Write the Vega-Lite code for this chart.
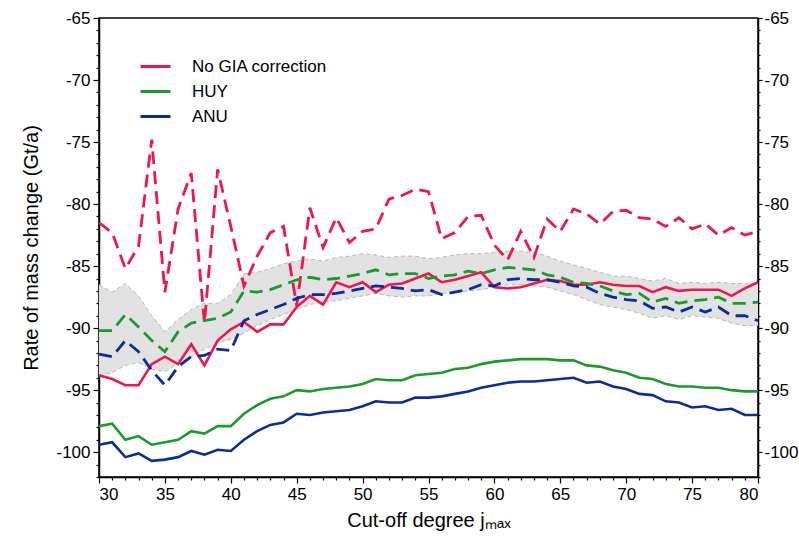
{
  "$schema": "https://vega.github.io/schema/vega-lite/v6.json",
  "width": 659,
  "height": 459,
  "autosize": "none",
  "padding": {"left": 99, "top": 18, "right": 41, "bottom": 74},
  "background": "white",
  "config": {
    "font": "Liberation Sans",
    "view": {"stroke": "black", "strokeWidth": 1.5},
    "axis": {
      "domainColor": "black", "domainWidth": 1.5, "tickColor": "black", "tickWidth": 1.2,
      "labelColor": "black", "labelFontSize": 17, "labelFont": "Liberation Sans",
      "titleFontSize": 20, "titleFontWeight": "normal", "titleColor": "black", "titleFont": "Liberation Sans",
      "grid": false, "labelOverlap": false
    }
  },
  "datasets": {
    "band": [
      {"x":30,"hi":-86.5,"lo":-93.8},{"x":31,"hi":-87.1,"lo":-93.6},{"x":32,"hi":-86.4,"lo":-93.0},{"x":33,"hi":-87.4,"lo":-92.8},{"x":34,"hi":-89.0,"lo":-93.3},{"x":35,"hi":-90.3,"lo":-93.5},{"x":36,"hi":-89.3,"lo":-92.9},{"x":37,"hi":-88.5,"lo":-92.3},{"x":38,"hi":-88.0,"lo":-91.7},{"x":39,"hi":-88.0,"lo":-91.2},{"x":40,"hi":-87.3,"lo":-90.9},
      {"x":41,"hi":-85.6,"lo":-90.4},{"x":42,"hi":-85.5,"lo":-89.8},{"x":43,"hi":-85.2,"lo":-89.3},{"x":44,"hi":-84.8,"lo":-88.9},{"x":45,"hi":-84.6,"lo":-88.5},{"x":46,"hi":-84.4,"lo":-88.1},{"x":47,"hi":-84.6,"lo":-87.9},{"x":48,"hi":-84.3,"lo":-87.8},{"x":49,"hi":-84.2,"lo":-87.6},{"x":50,"hi":-84.0,"lo":-87.4},
      {"x":51,"hi":-84.1,"lo":-87.2},{"x":52,"hi":-84.3,"lo":-87.4},{"x":53,"hi":-84.2,"lo":-87.5},{"x":54,"hi":-84.2,"lo":-87.4},{"x":55,"hi":-84.4,"lo":-87.4},{"x":56,"hi":-84.3,"lo":-87.2},{"x":57,"hi":-84.1,"lo":-87.1},{"x":58,"hi":-84.0,"lo":-87.0},{"x":59,"hi":-84.0,"lo":-86.9},{"x":60,"hi":-83.9,"lo":-86.7},
      {"x":61,"hi":-83.8,"lo":-86.5},{"x":62,"hi":-83.8,"lo":-86.5},{"x":63,"hi":-83.9,"lo":-86.6},{"x":64,"hi":-84.2,"lo":-86.7},{"x":65,"hi":-84.6,"lo":-87.0},{"x":66,"hi":-84.9,"lo":-87.3},{"x":67,"hi":-85.2,"lo":-87.7},{"x":68,"hi":-85.5,"lo":-88.1},{"x":69,"hi":-85.8,"lo":-88.3},{"x":70,"hi":-85.8,"lo":-88.5},
      {"x":71,"hi":-86.0,"lo":-88.8},{"x":72,"hi":-86.2,"lo":-89.2},{"x":73,"hi":-86.0,"lo":-89.0},{"x":74,"hi":-86.4,"lo":-89.3},{"x":75,"hi":-86.3,"lo":-89.0},{"x":76,"hi":-86.4,"lo":-89.1},{"x":77,"hi":-86.3,"lo":-89.2},{"x":78,"hi":-86.4,"lo":-89.6},{"x":79,"hi":-86.4,"lo":-89.8},{"x":80,"hi":-86.4,"lo":-89.8}
    ],
    "dashed": [
      {"x":30,"No GIA correction":-81.5,"HUY":-90.2,"ANU":-92.1},{"x":31,"No GIA correction":-82.3,"HUY":-90.2,"ANU":-92.3},{"x":32,"No GIA correction":-85.2,"HUY":-88.9,"ANU":-91.0},{"x":33,"No GIA correction":-83.4,"HUY":-89.9,"ANU":-91.9},{"x":34,"No GIA correction":-74.8,"HUY":-91.0,"ANU":-93.4},{"x":35,"No GIA correction":-87.1,"HUY":-91.9,"ANU":-94.6},{"x":36,"No GIA correction":-80.4,"HUY":-90.3,"ANU":-93.1},{"x":37,"No GIA correction":-77.5,"HUY":-89.6,"ANU":-92.3},{"x":38,"No GIA correction":-89.6,"HUY":-89.4,"ANU":-92.2},{"x":39,"No GIA correction":-77.2,"HUY":-89.2,"ANU":-91.7},{"x":40,"No GIA correction":-81.8,"HUY":-88.7,"ANU":-91.8},
      {"x":41,"No GIA correction":-86.6,"HUY":-87.0,"ANU":-89.4},{"x":42,"No GIA correction":-84.2,"HUY":-87.1,"ANU":-88.9},{"x":43,"No GIA correction":-82.3,"HUY":-86.9,"ANU":-88.5},{"x":44,"No GIA correction":-81.8,"HUY":-86.5,"ANU":-88.1},{"x":45,"No GIA correction":-88.2,"HUY":-86.1,"ANU":-87.6},{"x":46,"No GIA correction":-80.3,"HUY":-85.9,"ANU":-87.3},{"x":47,"No GIA correction":-83.5,"HUY":-86.1,"ANU":-87.3},{"x":48,"No GIA correction":-81.1,"HUY":-86.0,"ANU":-87.2},{"x":49,"No GIA correction":-83.1,"HUY":-85.8,"ANU":-87.0},{"x":50,"No GIA correction":-82.2,"HUY":-85.6,"ANU":-86.8},
      {"x":51,"No GIA correction":-82.0,"HUY":-85.3,"ANU":-86.6},{"x":52,"No GIA correction":-79.6,"HUY":-85.7,"ANU":-86.7},{"x":53,"No GIA correction":-79.3,"HUY":-85.6,"ANU":-86.8},{"x":54,"No GIA correction":-78.8,"HUY":-85.6,"ANU":-87.0},{"x":55,"No GIA correction":-79.0,"HUY":-86.0,"ANU":-86.9},{"x":56,"No GIA correction":-82.8,"HUY":-85.8,"ANU":-87.3},{"x":57,"No GIA correction":-82.3,"HUY":-85.7,"ANU":-87.1},{"x":58,"No GIA correction":-81.0,"HUY":-85.4,"ANU":-86.9},{"x":59,"No GIA correction":-80.9,"HUY":-85.6,"ANU":-86.5},{"x":60,"No GIA correction":-83.3,"HUY":-85.3,"ANU":-86.6},
      {"x":61,"No GIA correction":-84.5,"HUY":-85.1,"ANU":-86.1},{"x":62,"No GIA correction":-82.2,"HUY":-85.2,"ANU":-86.0},{"x":63,"No GIA correction":-84.3,"HUY":-85.3,"ANU":-86.1},{"x":64,"No GIA correction":-81.2,"HUY":-85.7,"ANU":-86.1},{"x":65,"No GIA correction":-82.2,"HUY":-85.9,"ANU":-86.3},{"x":66,"No GIA correction":-80.4,"HUY":-86.3,"ANU":-86.6},{"x":67,"No GIA correction":-80.8,"HUY":-86.4,"ANU":-86.7},{"x":68,"No GIA correction":-81.6,"HUY":-86.6,"ANU":-87.2},{"x":69,"No GIA correction":-80.6,"HUY":-87.0,"ANU":-87.5},{"x":70,"No GIA correction":-80.5,"HUY":-87.3,"ANU":-87.7},
      {"x":71,"No GIA correction":-81.1,"HUY":-87.2,"ANU":-87.8},{"x":72,"No GIA correction":-81.2,"HUY":-87.9,"ANU":-88.4},{"x":73,"No GIA correction":-81.8,"HUY":-87.6,"ANU":-88.3},{"x":74,"No GIA correction":-81.1,"HUY":-88.0,"ANU":-88.7},{"x":75,"No GIA correction":-82.0,"HUY":-87.8,"ANU":-88.3},{"x":76,"No GIA correction":-81.6,"HUY":-87.7,"ANU":-88.7},{"x":77,"No GIA correction":-82.5,"HUY":-87.5,"ANU":-88.3},{"x":78,"No GIA correction":-81.9,"HUY":-88.0,"ANU":-89.0},{"x":79,"No GIA correction":-82.5,"HUY":-88.0,"ANU":-89.0},{"x":80,"No GIA correction":-82.2,"HUY":-87.9,"ANU":-89.4}
    ],
    "solid": [
      {"x":30,"No GIA correction":-93.8,"HUY":-97.9,"ANU":-99.4},{"x":31,"No GIA correction":-94.1,"HUY":-97.7,"ANU":-99.2},{"x":32,"No GIA correction":-94.6,"HUY":-99.0,"ANU":-100.4},{"x":33,"No GIA correction":-94.6,"HUY":-98.7,"ANU":-100.1},{"x":34,"No GIA correction":-92.9,"HUY":-99.4,"ANU":-100.7},{"x":35,"No GIA correction":-92.3,"HUY":-99.2,"ANU":-100.6},{"x":36,"No GIA correction":-92.9,"HUY":-99.0,"ANU":-100.4},{"x":37,"No GIA correction":-91.3,"HUY":-98.3,"ANU":-99.9},{"x":38,"No GIA correction":-93.0,"HUY":-98.5,"ANU":-100.2},{"x":39,"No GIA correction":-91.0,"HUY":-97.9,"ANU":-99.8},{"x":40,"No GIA correction":-90.1,"HUY":-97.9,"ANU":-99.9},
      {"x":41,"No GIA correction":-89.5,"HUY":-96.9,"ANU":-99.0},{"x":42,"No GIA correction":-90.3,"HUY":-96.2,"ANU":-98.3},{"x":43,"No GIA correction":-89.7,"HUY":-95.7,"ANU":-97.8},{"x":44,"No GIA correction":-89.7,"HUY":-95.5,"ANU":-97.6},{"x":45,"No GIA correction":-88.3,"HUY":-95.0,"ANU":-96.9},{"x":46,"No GIA correction":-87.4,"HUY":-95.1,"ANU":-97.0},{"x":47,"No GIA correction":-88.1,"HUY":-94.9,"ANU":-96.8},{"x":48,"No GIA correction":-86.3,"HUY":-94.8,"ANU":-96.7},{"x":49,"No GIA correction":-86.7,"HUY":-94.7,"ANU":-96.6},{"x":50,"No GIA correction":-86.3,"HUY":-94.5,"ANU":-96.3},
      {"x":51,"No GIA correction":-87.1,"HUY":-94.1,"ANU":-95.9},{"x":52,"No GIA correction":-86.5,"HUY":-94.2,"ANU":-96.0},{"x":53,"No GIA correction":-86.4,"HUY":-94.2,"ANU":-96.0},{"x":54,"No GIA correction":-86.0,"HUY":-93.8,"ANU":-95.6},{"x":55,"No GIA correction":-85.6,"HUY":-93.7,"ANU":-95.6},{"x":56,"No GIA correction":-86.3,"HUY":-93.6,"ANU":-95.5},{"x":57,"No GIA correction":-86.1,"HUY":-93.3,"ANU":-95.3},{"x":58,"No GIA correction":-85.8,"HUY":-93.2,"ANU":-95.1},{"x":59,"No GIA correction":-85.5,"HUY":-92.9,"ANU":-94.8},{"x":60,"No GIA correction":-86.7,"HUY":-92.7,"ANU":-94.6},
      {"x":61,"No GIA correction":-86.8,"HUY":-92.6,"ANU":-94.4},{"x":62,"No GIA correction":-86.7,"HUY":-92.5,"ANU":-94.3},{"x":63,"No GIA correction":-86.4,"HUY":-92.5,"ANU":-94.3},{"x":64,"No GIA correction":-86.1,"HUY":-92.5,"ANU":-94.2},{"x":65,"No GIA correction":-86.2,"HUY":-92.6,"ANU":-94.1},{"x":66,"No GIA correction":-86.5,"HUY":-92.6,"ANU":-94.0},{"x":67,"No GIA correction":-86.5,"HUY":-93.0,"ANU":-94.4},{"x":68,"No GIA correction":-86.3,"HUY":-93.1,"ANU":-94.3},{"x":69,"No GIA correction":-86.5,"HUY":-93.4,"ANU":-94.7},{"x":70,"No GIA correction":-86.6,"HUY":-93.6,"ANU":-94.9},
      {"x":71,"No GIA correction":-86.6,"HUY":-94.0,"ANU":-95.3},{"x":72,"No GIA correction":-87.1,"HUY":-94.1,"ANU":-95.4},{"x":73,"No GIA correction":-86.7,"HUY":-94.5,"ANU":-95.9},{"x":74,"No GIA correction":-87.0,"HUY":-94.7,"ANU":-96.0},{"x":75,"No GIA correction":-86.9,"HUY":-94.7,"ANU":-96.4},{"x":76,"No GIA correction":-86.9,"HUY":-94.8,"ANU":-96.3},{"x":77,"No GIA correction":-86.9,"HUY":-94.8,"ANU":-96.6},{"x":78,"No GIA correction":-87.4,"HUY":-95.0,"ANU":-96.5},{"x":79,"No GIA correction":-86.8,"HUY":-95.1,"ANU":-97.0},{"x":80,"No GIA correction":-86.3,"HUY":-95.1,"ANU":-97.0}
    ]
  },
  "encoding": {
    "x": {
      "field": "x", "type": "quantitative",
      "scale": {"domain": [30, 80], "nice": false, "zero": false},
      "axis": {
        "title": "Cut-off degree jₘₐₓ",
        "values": [30,31,32,33,34,35,36,37,38,39,40,41,42,43,44,45,46,47,48,49,50,51,52,53,54,55,56,57,58,59,60,61,62,63,64,65,66,67,68,69,70,71,72,73,74,75,76,77,78,79,80],
        "labelExpr": "datum.value % 5 === 0 ? '' + datum.value : ''",
        "tickSize": {"condition": {"test": "datum.value % 5 === 0", "value": 6}, "value": 3},
        "labelPadding": 3,
        "titlePadding": 8
      }
    }
  },
  "layer": [
    {
      "data": {"name": "band"},
      "mark": {"type": "area", "color": "#e2e2e2", "opacity": 1},
      "encoding": {
        "y": {
          "field": "lo", "type": "quantitative",
          "scale": {"domain": [-102, -65], "nice": false, "zero": false},
          "axis": {
            "title": "Rate of mass change (Gt/a)",
            "values": [-102,-101,-100,-99,-98,-97,-96,-95,-94,-93,-92,-91,-90,-89,-88,-87,-86,-85,-84,-83,-82,-81,-80,-79,-78,-77,-76,-75,-74,-73,-72,-71,-70,-69,-68,-67,-66,-65],
            "labelExpr": "datum.value % 5 === 0 ? '' + datum.value : ''",
            "tickSize": {"condition": {"test": "datum.value % 5 === 0", "value": 6}, "value": 3},
            "labelPadding": 3,
            "titlePadding": 14
          }
        },
        "y2": {"field": "hi"}
      }
    },
    {
      "data": {"name": "band"},
      "mark": {"type": "line", "color": "#b8b8b8", "strokeWidth": 1, "strokeDash": [4, 3]},
      "encoding": {
        "y": {"field": "hi", "type": "quantitative", "scale": {"domain": [-102, -65], "nice": false, "zero": false}, "axis": null}
      }
    },
    {
      "data": {"name": "band"},
      "mark": {"type": "line", "color": "#b8b8b8", "strokeWidth": 1, "strokeDash": [4, 3]},
      "encoding": {
        "y": {"field": "lo", "type": "quantitative", "scale": {"domain": [-102, -65], "nice": false, "zero": false}, "axis": null}
      }
    },
    {
      "data": {"name": "solid"},
      "transform": [{"fold": ["No GIA correction", "HUY", "ANU"], "as": ["model", "v"]}],
      "mark": {"type": "line", "strokeWidth": 2.6},
      "encoding": {
        "y": {"field": "v", "type": "quantitative", "scale": {"domain": [-102, -65], "nice": false, "zero": false}, "axis": null},
        "color": {
          "field": "model", "type": "nominal",
          "scale": {"domain": ["No GIA correction", "HUY", "ANU"], "range": ["#ee1650", "#1c9a2c", "#0c2c9c"]},
          "legend": {
            "orient": "none", "legendX": 40, "legendY": 32, "title": null,
            "symbolType": "stroke", "symbolSize": 900, "symbolStrokeWidth": 3,
            "labelFontSize": 17, "labelFont": "Liberation Sans", "labelColor": "black",
            "labelOffset": 20, "rowPadding": -9, "padding": 0
          }
        }
      }
    },
    {
      "data": {"name": "dashed"},
      "transform": [{"fold": ["No GIA correction", "HUY", "ANU"], "as": ["model", "v"]}],
      "mark": {"type": "line", "strokeWidth": 2.8, "strokeDash": [13, 7]},
      "encoding": {
        "y": {"field": "v", "type": "quantitative", "scale": {"domain": [-102, -65], "nice": false, "zero": false}, "axis": null},
        "color": {"field": "model", "type": "nominal"}
      }
    },
    {
      "data": {"name": "band"},
      "mark": {"type": "line", "opacity": 0},
      "encoding": {
        "y": {
          "field": "hi", "type": "quantitative",
          "scale": {"domain": [-102, -65], "nice": false, "zero": false},
          "axis": {
            "orient": "right", "title": null,
            "values": [-102,-101,-100,-99,-98,-97,-96,-95,-94,-93,-92,-91,-90,-89,-88,-87,-86,-85,-84,-83,-82,-81,-80,-79,-78,-77,-76,-75,-74,-73,-72,-71,-70,-69,-68,-67,-66,-65],
            "labelExpr": "datum.value % 5 === 0 ? '' + datum.value : ''",
            "tickSize": {"condition": {"test": "datum.value % 5 === 0", "value": 4}, "value": 2},
            "labelPadding": 2
          }
        }
      }
    }
  ],
  "resolve": {"axis": {"y": "independent"}}
}
